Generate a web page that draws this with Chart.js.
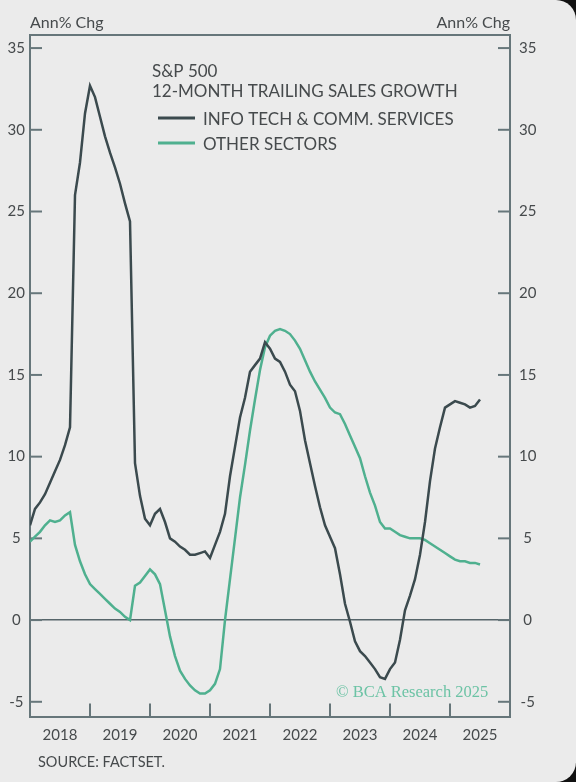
<!DOCTYPE html>
<html>
<head>
<meta charset="utf-8">
<script src="https://cdn.jsdelivr.net/npm/chart.js@4.4.1/dist/chart.umd.min.js"></script>
<style>
  html, body { margin: 0; padding: 0; background: #111; }
  #wrap { width: 576px; height: 782px; background: #ebebeb; border-radius: 0 20px 20px 0; overflow: hidden; position: relative; }
</style>
</head>
<body>
<div id="wrap"><canvas id="chart"></canvas></div>
<script>
// S&P 500 12-month trailing sales growth, monthly from Jan 2018

const START_YEAR = 2018;
const yearLabels = ['2018', '2019', '2020', '2021', '2022', '2023', '2024', '2025'];
const yearBreaks = [2019, 2020, 2021, 2022, 2023, 2024, 2025];
const yTickValues = [-5, 0, 5, 10, 15, 20, 25, 30, 35];

const infoTech = [
  5.8, 6.8, 7.2, 7.7, 8.4, 9.1, 9.8, 10.7, 11.8, 26.0,
  28.0, 31.0, 32.7, 32.0, 30.8, 29.6, 28.6, 27.7, 26.7, 25.5,
  24.4, 9.6, 7.6, 6.2, 5.8, 6.5, 6.8, 6.0, 5.0, 4.8,
  4.5, 4.3, 4.0, 4.0, 4.1, 4.2, 3.8, 4.6, 5.4, 6.5,
  8.8, 10.6, 12.4, 13.6, 15.2, 15.6, 16.0, 17.0, 16.6, 16.0,
  15.8, 15.2, 14.4, 14.0, 12.8, 11.0, 9.6, 8.2, 6.9, 5.8,
  5.1, 4.4, 2.8, 1.0, -0.1, -1.3, -1.9, -2.2, -2.6, -3.0,
  -3.5, -3.6, -3.0, -2.6, -1.2, 0.6, 1.5, 2.5, 4.0, 6.0,
  8.5, 10.5, 11.8, 13.0, 13.2, 13.4, 13.3, 13.2, 13.0, 13.1,
  13.5
];

const otherSectors = [
  4.8, 5.1, 5.4, 5.8, 6.1, 6.0, 6.1, 6.4, 6.6, 4.6,
  3.6, 2.8, 2.2, 1.9, 1.6, 1.3, 1.0, 0.7, 0.5, 0.2,
  0.0, 2.1, 2.3, 2.7, 3.1, 2.8, 2.2, 0.6, -1.0, -2.2,
  -3.1, -3.6, -4.0, -4.3, -4.5, -4.5, -4.3, -3.9, -3.0, 0.0,
  2.5, 5.0, 7.5, 9.5, 11.6, 13.5, 15.3, 16.7, 17.4, 17.7,
  17.8, 17.7, 17.5, 17.1, 16.6, 15.9, 15.2, 14.6, 14.1, 13.6,
  13.0, 12.7, 12.6, 12.0, 11.3, 10.6, 9.9, 8.8, 7.8, 7.0,
  6.0, 5.6, 5.6, 5.4, 5.2, 5.1, 5.0, 5.0, 5.0, 4.9,
  4.7, 4.5, 4.3, 4.1, 3.9, 3.7, 3.6, 3.6, 3.5, 3.5,
  3.4
];

const COLORS = {
  dark: '#3b4a4e',
  green: '#4fb08f',
  frame: '#66767a',
  zero: '#56656a',
  text: '#464a4c',
  credit: '#6cc3a5',
};
const FONT = "Lato, 'Noto Sans', sans-serif";

const toPoints = arr => arr.map((v, i) => ({ x: START_YEAR + i / 12, y: v }));

const decorations = {
  id: 'decorations',
  beforeDatasetsDraw(chart) {
    const { ctx, chartArea: a, scales } = chart;
    const line = (x1, y1, x2, y2) => { ctx.beginPath(); ctx.moveTo(x1, y1); ctx.lineTo(x2, y2); ctx.stroke(); };
    ctx.save();
    ctx.strokeStyle = COLORS.frame;
    ctx.lineWidth = 2;
    line(a.left - 1, a.top, a.right + 1, a.top);
    yTickValues.forEach(v => {
      const y = scales.y.getPixelForValue(v);
      line(a.left, y, a.left + 12, y);
      line(a.right - 12, y, a.right, y);
    });
    yearBreaks.forEach(yr => {
      const x = scales.x.getPixelForValue(yr);
      line(x, a.bottom, x, a.bottom - 13);
    });

    // credit
    ctx.fillStyle = COLORS.credit;
    ctx.font = "16.5px 'Liberation Serif', serif";
    ctx.textAlign = 'left';
    ctx.fillText('\u00A9 BCA Research 2025', 336, 697);
    ctx.restore();
  },
  afterDraw(chart) {
    const { ctx, chartArea: a } = chart;
    ctx.save();
    ctx.fillStyle = COLORS.text;
    ctx.textBaseline = 'alphabetic';
    ctx.font = `16px ${FONT}`;
    ctx.textAlign = 'left';
    ctx.fillText('Ann% Chg', a.left, 28);
    ctx.textAlign = 'right';
    ctx.fillText('Ann% Chg', a.right, 28);

    ctx.textAlign = 'left';
    ctx.font = `17px ${FONT}`;
    ctx.fillText('S&P 500', 152, 77);
    ctx.fillText('12-MONTH TRAILING SALES GROWTH', 152, 97);

    chart.data.datasets.forEach((ds, i) => {
      const y = 118 + i * 25;
      ctx.strokeStyle = ds.borderColor;
      ctx.lineWidth = 3;
      ctx.beginPath(); ctx.moveTo(158, y); ctx.lineTo(195, y); ctx.stroke();
      ctx.fillText(ds.label, 203, y + 7);
    });

    ctx.font = `14.5px ${FONT}`;
    ctx.fillText('SOURCE: FACTSET.', 38, 767);
    ctx.restore();
  }
};

const yAxisBase = {
  type: 'linear',
  min: -5.9,
  max: 35.8,
  afterBuildTicks: scale => { scale.ticks = yTickValues.map(v => ({ value: v })); },
  border: { display: true, color: COLORS.frame, width: 2 },
  ticks: { color: COLORS.text, font: { family: FONT, size: 15 }, crossAlign: 'center' },
};

new Chart(document.getElementById('chart'), {
  type: 'line',
  data: {
    datasets: [
      { label: 'INFO TECH & COMM. SERVICES', data: toPoints(infoTech), borderColor: COLORS.dark, borderWidth: 2.5, pointRadius: 0, tension: 0, yAxisID: 'y' },
      { label: 'OTHER SECTORS', data: toPoints(otherSectors), borderColor: COLORS.green, borderWidth: 2.5, pointRadius: 0, tension: 0, yAxisID: 'y' },
    ],
  },
  options: {
    responsive: true,
    maintainAspectRatio: false,
    animation: false,
    layout: { padding: { top: 35, left: 0, right: 0, bottom: 0 } },
    plugins: { legend: { display: false }, tooltip: { enabled: false } },
    scales: {
      x: {
        type: 'linear',
        min: START_YEAR,
        max: 2026,
        afterBuildTicks: scale => { scale.ticks = yearLabels.map(l => ({ value: Number(l) + 0.5 })); },
        afterFit: scale => { scale.height = 65.5; },
        border: { display: true, color: COLORS.frame, width: 2 },
        grid: { color: 'rgba(0,0,0,0)', drawTicks: false },
        ticks: { color: COLORS.text, font: { family: FONT, size: 15 }, padding: 10, maxRotation: 0, callback: (v, i) => yearLabels[i] },
      },
      y: {
        ...yAxisBase,
        position: 'left',
        afterFit: scale => { scale.width = 30; },
        grid: { color: ctx => ctx.tick && ctx.tick.value === 0 ? COLORS.zero : 'rgba(0,0,0,0)', lineWidth: 1.6, drawTicks: false },
        ticks: { ...yAxisBase.ticks, padding: 5 },
      },
      y2: {
        ...yAxisBase,
        position: 'right',
        afterFit: scale => { scale.width = 66; },
        grid: { drawOnChartArea: false, drawTicks: false },
        ticks: { ...yAxisBase.ticks, padding: 9 },
      },
    },
  },
  plugins: [decorations],
});
</script>
</body>
</html>
